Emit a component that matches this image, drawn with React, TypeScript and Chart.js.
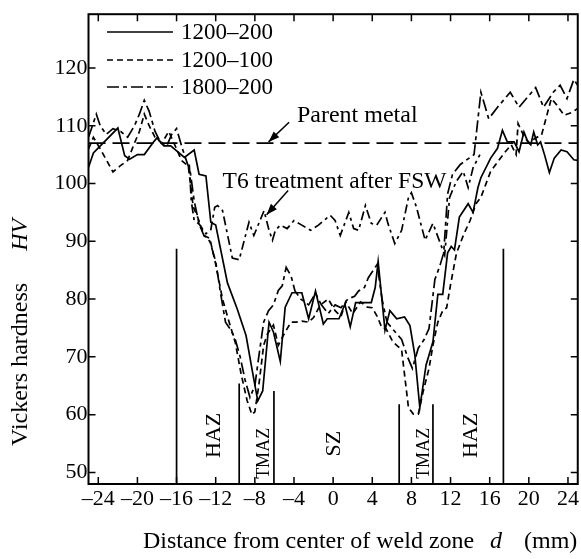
import React, { useEffect, useRef } from "react";
import { Chart, registerables } from "chart.js";

Chart.register(...registerables);

const FONT = "'Liberation Serif', 'Times New Roman', serif";

const xTicks = [-24, -20, -16, -12, -8, -4, 0, 4, 8, 12, 16, 20, 24];
const yTicks = [50, 60, 70, 80, 90, 100, 110, 120];
const seriesLabels = ["1200–200", "1200–100", "1800–200"];

const d1200_200 = [-25, -24.5, -22, -21.3, -20.8, -20, -19.3, -18.3, -18, -17.3, -16.6, -15.2, -14.2, -13.7, -13, -12.5, -12, -10.8, -9.8, -8.9, -8.25, -7.7, -7.2, -6.55, -6.1, -5.4, -4.9, -4.2, -3.2, -2.5, -1.8, -1, -0.6, 0.6, 1.2, 1.75, 2.3, 3.9, 4.3, 4.6, 5.3, 5.8, 6.5, 7.3, 7.85, 8.35, 8.86, 9.5, 10.2, 10.7, 11.2, 11.7, 12.07, 12.4, 12.9, 13.8, 14.3, 14.8, 15.1, 16.1, 16.8, 17.3, 17.8, 18.5, 19, 19.5, 19.9, 20.2, 20.5, 20.9, 21.2, 21.6, 22.1, 22.6, 23.3, 23.9, 24.6, 25];
const hv1200_200 = [102.8, 105.3, 109.6, 104.8, 104.2, 105, 105, 107.3, 107.9, 106.5, 106.5, 104.5, 105.8, 101.6, 101.3, 93.3, 92.8, 82.8, 78.3, 73.7, 67.5, 62.4, 64.1, 76, 74.3, 69.2, 78.6, 81.1, 81.1, 76.6, 81.4, 75.7, 76.6, 76.6, 79.1, 75.2, 79.4, 79.4, 82, 86.5, 74.6, 78, 76.6, 76.9, 75.4, 70.3, 61.2, 68.6, 72.6, 80.8, 80.8, 88, 89.1, 88.5, 94.2, 96.5, 95, 99.3, 101, 104.4, 106.1, 109.2, 107.2, 107.2, 105.5, 108.9, 107.2, 106.7, 108.9, 106.7, 107.2, 105, 101.9, 104.4, 105.8, 105.5, 104.1, 104];

const d1200_100 = [-25, -24.5, -23.8, -22.5, -21.8, -21, -20.3, -19.8, -19.3, -18.8, -18.2, -17.5, -16.8, -16, -15.5, -14.8, -14.3, -13.8, -13.2, -12.6, -12, -11.3, -10.8, -10, -9.4, -8.8, -8.3, -8, -7.6, -7.1, -6.7, -6.1, -5.6, -5, -4.3, -3.8, -3.2, -2.5, -2, -1.3, -0.5, 0.2, 0.8, 1.3, 2, 2.8, 3.5, 4, 4.5, 5, 5.4, 6.1, 6.5, 7, 7.7, 8.2, 8.7, 9.2, 9.8, 10.2, 10.7, 11.2, 11.6, 12, 12.6, 13.3, 14, 14.6, 15.1, 16.1, 17.5, 18.2, 18.7, 18.9, 19.6, 20.1, 20.6, 21.3, 22.3, 22.9, 23.6, 24.4, 25];
const hv1200_100 = [106, 108, 106, 102, 103, 104, 107, 109, 112, 110, 108, 107, 109, 106, 104, 103, 96, 94, 91, 90.5, 86, 80, 77, 72.5, 67, 62.5, 60, 60.5, 65, 72, 74, 75.5, 72, 74, 76, 76, 76.2, 76, 76.8, 79, 80, 78, 77, 79.5, 77.5, 79.5, 78.6, 78.5, 77, 75, 74.9, 72.6, 72, 71.2, 61.2, 60.1, 60.1, 64, 68, 72, 76, 78, 78.5, 82.5, 87.9, 91, 93.6, 96.5, 97.6, 102.1, 105.3, 106.7, 105, 110.4, 107.8, 107, 107.8, 108.4, 114.7, 113.5, 111.8, 112.3, 113];

const d1800_200 = [-25, -24.6, -24.2, -23.8, -23.2, -22.5, -21.7, -21, -20.3, -19.8, -19.3, -18.8, -18.2, -17.6, -17, -16.5, -16, -15.4, -15, -14.6, -14.2, -13.7, -13.2, -12.6, -12, -11.5, -11, -10.4, -10, -9.5, -9, -8.5, -8, -7.6, -7.1, -6.6, -6.1, -5.6, -5.2, -4.8, -4.3, -3.9, -3.3, -2.5, -1.8, -1.2, -0.5, 0.2, 0.8, 1.5, 2.2, 2.6, 3.2, 3.6, 4.1, 4.5, 5, 5.5, 6, 6.5, 7, 7.6, 8.1, 8.7, 9.3, 9.8, 10.4, 10.9, 11.3, 11.7, 12.2, 13, 14.4, 15.1, 15.9, 16.8, 18.1, 19, 20.7, 21.5, 22.5, 23.2, 23.9, 24.6, 25];
const hv1800_200 = [108, 110, 112, 110, 108.5, 109.5, 109, 108, 110, 112, 114.4, 112.5, 109, 107, 106.5, 108.5, 109.5, 106, 104, 102, 97, 93, 91, 90, 86.5, 81, 76, 74.5, 73, 70, 66, 63, 65, 70, 76, 78, 79, 81.5, 82.3, 85.5, 84, 81.4, 80, 79, 81, 79, 77.5, 79, 78.5, 80, 80.5, 81.4, 82, 83.7, 85, 86, 80, 76, 75, 74, 73, 70, 68, 71.5, 73, 74.9, 83.4, 85.7, 88, 98.2, 101.6, 103.3, 105, 115.8, 111.2, 113.2, 115.8, 113.2, 116.6, 113.2, 115.8, 117, 114.7, 118, 117];

const dT6 = [-14.7, -14.5, -14.2, -13.7, -13, -12.5, -12.1, -11.8, -11.3, -10.3, -9.6, -8.6, -8.1, -7.06, -6.55, -6.2, -5.9, -5.4, -4.7, -4, -3.2, -2.3, -1.5, -0.3, 0.2, 0.73, 1.6, 2.1, 2.6, 3.3, 3.9, 4.45, 5.3, 5.6, 6.3, 7, 7.7, 8, 8.5, 9.4, 10.2, 10.9, 11.4, 11.9, 12.6, 13.3, 13.8, 14.3, 15];
const hvT6 = [103.3, 97, 93.6, 93, 91.3, 92, 95.9, 96.2, 95.3, 87.1, 86.8, 93.3, 91, 95.3, 91.9, 90.2, 91.9, 92.8, 92.2, 93.6, 92.8, 91.9, 92.8, 94.5, 93.6, 91, 95, 92.2, 91.9, 96.2, 93.1, 92.8, 95, 93.1, 89.6, 91.9, 97.6, 98.4, 96, 90.2, 93.1, 89.9, 87.6, 97.6, 100.4, 102.1, 99.3, 102.7, 105];

const parentMetalHV = 107;
const dRange = [-25, 25];

const zoneLineD = [-16, -9.6, -6.05, 6.75, 10.2, 17.4];
const zoneLineTop = [88.7, 65.4, 64.1, 61.8, 61.8, 88.7];

const zoneLabels = ["HAZ", "TMAZ", "SZ", "TMAZ", "HAZ"];
const zoneLabelD = [-12.3, -7.15, 0.05, 9.2, 14.0];
const zoneLabelHV = [56.4, 53.3, 55, 53.3, 56.4];
const zoneLabelSize = [22, 18, 22, 18, 22];

const Y_MIN = 48;
const Y_MAX = 129.3;

const pts = (xs: number[], ys: number[]) => xs.map((x, i) => ({ x, y: ys[i] }));

function arrow(ctx: CanvasRenderingContext2D, x1: number, y1: number, x2: number, y2: number) {
  ctx.setLineDash([]);
  ctx.beginPath();
  ctx.moveTo(x1, y1);
  ctx.lineTo(x2, y2);
  ctx.stroke();
  const ang = Math.atan2(y2 - y1, x2 - x1);
  const L = 11, W = 4;
  ctx.beginPath();
  ctx.moveTo(x2, y2);
  ctx.lineTo(x2 - L * Math.cos(ang) + W * Math.sin(ang), y2 - L * Math.sin(ang) - W * Math.cos(ang));
  ctx.lineTo(x2 - L * Math.cos(ang) - W * Math.sin(ang), y2 - L * Math.sin(ang) + W * Math.cos(ang));
  ctx.closePath();
  ctx.fill();
}

const decor = {
  id: "decor",
  afterDraw(chart: any) {
    const { ctx, chartArea: a } = chart;
    const x = chart.scales.x;
    const y = chart.scales.y;
    ctx.save();
    ctx.strokeStyle = "#000";
    ctx.fillStyle = "#000";
    ctx.setLineDash([]);
    // frame
    ctx.lineWidth = 2;
    ctx.strokeRect(a.left, a.top, a.right - a.left, a.bottom - a.top);
    // inward ticks
    ctx.lineWidth = 1.5;
    x.ticks.forEach((t: any) => {
      const px = x.getPixelForValue(t.value);
      ctx.beginPath();
      ctx.moveTo(px, a.bottom); ctx.lineTo(px, a.bottom - 7);
      ctx.moveTo(px, a.top); ctx.lineTo(px, a.top + 7);
      ctx.stroke();
    });
    y.ticks.forEach((t: any) => {
      const py = y.getPixelForValue(t.value);
      ctx.beginPath();
      ctx.moveTo(a.left, py); ctx.lineTo(a.left + 7, py);
      ctx.moveTo(a.right, py); ctx.lineTo(a.right - 7, py);
      ctx.stroke();
    });

    // legend
    const legY = [32, 60, 87];
    ctx.font = `23px ${FONT}`;
    ctx.textBaseline = "middle";
    ctx.textAlign = "left";
    for (let i = 0; i < 3; i++) {
      const ds = chart.data.datasets[i];
      ctx.lineWidth = 1.7;
      ctx.setLineDash(ds.borderDash || []);
      ctx.beginPath();
      ctx.moveTo(107, legY[i]);
      ctx.lineTo(173, legY[i]);
      ctx.stroke();
      ctx.setLineDash([]);
      ctx.fillText(ds.label, 181, legY[i] + 1);
    }

    // annotations
    ctx.lineWidth = 1.5;
    arrow(ctx, x.getPixelForValue(-4.5), y.getPixelForValue(110.6), x.getPixelForValue(-6.6), y.getPixelForValue(107.2));
    arrow(ctx, x.getPixelForValue(-4.6), y.getPixelForValue(98.8), x.getPixelForValue(-6.8), y.getPixelForValue(94.6));
    ctx.font = `24px ${FONT}`;
    ctx.textBaseline = "middle";
    ctx.fillText("Parent metal", x.getPixelForValue(-3.7), y.getPixelForValue(111.8));
    ctx.font = `23.5px ${FONT}`;
    ctx.fillText("T6 treatment after FSW", x.getPixelForValue(-11.3), y.getPixelForValue(100.3));

    // zone labels
    for (let i = 0; i < zoneLabels.length; i++) {
      ctx.save();
      ctx.translate(x.getPixelForValue(zoneLabelD[i]), y.getPixelForValue(zoneLabelHV[i]));
      ctx.rotate(-Math.PI / 2);
      ctx.font = `${zoneLabelSize[i]}px ${FONT}`;
      ctx.textAlign = "center";
      ctx.textBaseline = "middle";
      ctx.fillText(zoneLabels[i], 0, 1);
      ctx.restore();
    }

    // axis titles
    ctx.font = `24px ${FONT}`;
    ctx.textAlign = "left";
    ctx.textBaseline = "middle";
    ctx.fillText("Distance from center of weld zone", 143, 542);
    ctx.font = `italic 24px ${FONT}`;
    ctx.fillText("d", 490, 542);
    ctx.font = `24px ${FONT}`;
    ctx.fillText("(mm)", 524, 542);

    ctx.save();
    ctx.translate(21, 446);
    ctx.rotate(-Math.PI / 2);
    ctx.font = `24px ${FONT}`;
    ctx.textAlign = "left";
    ctx.textBaseline = "middle";
    ctx.fillText("Vickers hardness", 0, 0);
    const w = ctx.measureText("Vickers hardness").width;
    ctx.font = `italic 24px ${FONT}`;
    ctx.fillText("HV", w + 32, 0);
    ctx.restore();

    ctx.restore();
  },
};

export default function App() {
  const ref = useRef<HTMLCanvasElement | null>(null);
  useEffect(() => {
    document.body.style.margin = "0";
    const canvas = ref.current;
    if (!canvas) return;
    const lineDs = (label: string, data: any[], dash: number[]) => ({
      label,
      data,
      borderColor: "#000",
      borderWidth: 1.7,
      borderDash: dash,
      pointRadius: 0,
      tension: 0,
      fill: false,
    });
    const datasets: any[] = [
      lineDs(seriesLabels[0], pts(d1200_200, hv1200_200), []),
      lineDs(seriesLabels[1], pts(d1200_100, hv1200_100), [6, 4]),
      lineDs(seriesLabels[2], pts(d1800_200, hv1800_200), [12, 4, 4, 4]),
      lineDs("T6", pts(dT6, hvT6), [9, 4, 3, 4]),
      lineDs("Parent metal", dRange.map((d) => ({ x: d, y: parentMetalHV })), [17, 7]),
    ];
    zoneLineD.forEach((d, i) => {
      datasets.push({
        label: "zone" + i,
        data: [{ x: d, y: Y_MIN }, { x: d, y: zoneLineTop[i] }],
        borderColor: "#000",
        borderWidth: 1.7,
        pointRadius: 0,
        fill: false,
      });
    });
    const chart = new Chart(canvas, {
      type: "line",
      data: { datasets },
      options: {
        animation: false,
        responsive: false,
        maintainAspectRatio: false,
        parsing: false,
        layout: { padding: { top: 7.3, right: 1.5, left: 0, bottom: 0 } },
        plugins: { legend: { display: false }, tooltip: { enabled: false } },
        scales: {
          x: {
            type: "linear",
            min: -25,
            max: 25,
            afterFit: (s: any) => { s.height = 75; },
            afterBuildTicks: (s: any) => { s.ticks = xTicks.map((v) => ({ value: v })); },
            grid: { display: false, drawTicks: false },
            border: { display: false },
            ticks: {
              color: "#000",
              font: { family: FONT, size: 22 },
              padding: 2,
              maxRotation: 0,
              autoSkip: false,
              callback: (v: any) => (v < 0 ? "–" + Math.abs(v) : String(v)),
            },
          },
          y: {
            type: "linear",
            min: Y_MIN,
            max: Y_MAX,
            afterFit: (s: any) => { s.width = 88.5; },
            afterBuildTicks: (s: any) => { s.ticks = yTicks.map((v) => ({ value: v })); },
            grid: { display: false, drawTicks: false },
            border: { display: false },
            ticks: {
              color: "#000",
              font: { family: FONT, size: 22 },
              padding: 1,
              autoSkip: false,
            },
          },
        },
      },
      plugins: [decor],
    });
    return () => chart.destroy();
  }, []);
  return <canvas ref={ref} width={581} height={559} style={{ display: "block" }} />;
}
